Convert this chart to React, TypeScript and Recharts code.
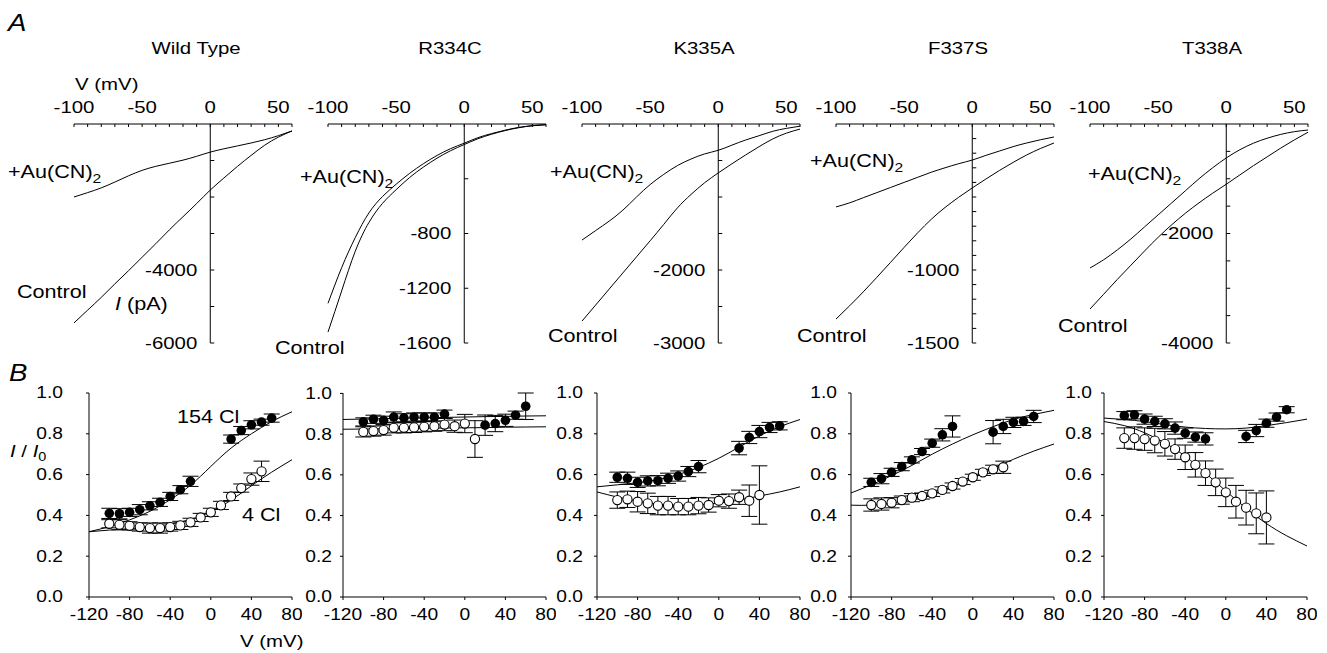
import React from "react";
import {
  ComposedChart,
  LineChart,
  Line,
  Scatter,
  ErrorBar,
  XAxis,
  YAxis,
  ReferenceLine,
} from "recharts";

const FONT = "'Liberation Sans', Arial, Helvetica, sans-serif";
const SX = 1.2; // the figure's lettering is stretched sideways

// ---------- A: current traces (pA) ----------
const aVoltage = [-100, -90, -80, -70, -60, -50, -40, -30, -20, -10, 0, 10, 20, 30, 40, 50, 60];
const aXTicks = [-100, -90, -80, -70, -60, -50, -40, -30, -20, -10, 0, 10, 20, 30, 40, 50, 60];

const wtControl = [-5450, -5100, -4750, -4380, -4020, -3650, -3280, -2900, -2540, -2180, -1810, -1480, -1160, -860, -580, -360, -190];
const wtAu = [-2000, -1880, -1750, -1590, -1420, -1270, -1160, -1075, -990, -885, -770, -680, -600, -520, -430, -320, -190];
const rcControl = [-1520, -1220, -930, -720, -580, -480, -390, -315, -250, -195, -150, -108, -75, -48, -27, -13, -5];
const rcAu = [-1310, -1050, -830, -650, -530, -440, -360, -290, -230, -180, -140, -100, -70, -45, -25, -12, -5];
const kControl = [-2700, -2480, -2260, -2040, -1820, -1600, -1375, -1150, -965, -805, -670, -545, -425, -310, -205, -125, -70];
const kAu = [-1590, -1460, -1330, -1180, -1000, -830, -690, -570, -480, -410, -360, -290, -220, -160, -100, -60, -30];
const fControl = [-1336, -1245, -1150, -1050, -948, -845, -745, -652, -572, -502, -438, -377, -318, -263, -212, -168, -130];
const fAu = [-568, -540, -505, -470, -435, -400, -365, -330, -300, -272, -247, -215, -185, -155, -130, -108, -89];
const tControl = [-3380, -3110, -2840, -2580, -2320, -2070, -1840, -1630, -1440, -1265, -1100, -930, -760, -600, -440, -290, -150];
const tAu = [-2630, -2480, -2300, -2100, -1880, -1660, -1440, -1220, -1000, -800, -620, -470, -350, -260, -190, -140, -110];

const wtYTicks = [-1000, -2000, -3000, -4000, -5000, -6000];
const wtYLabels = [-4000, -6000];
const rcYTicks = [-400, -800, -1200, -1600];
const rcYLabels = [-800, -1200, -1600];
const kYTicks = [-500, -1000, -1500, -2000, -2500, -3000];
const kYLabels = [-2000, -3000];
const fYTicks = [-100, -200, -300, -400, -500, -600, -700, -800, -900, -1000, -1100, -1200, -1300, -1400, -1500];
const fYLabels = [-1000, -1500];
const tYTicks = [-500, -1000, -1500, -2000, -2500, -3000, -3500, -4000];
const tYLabels = [-2000, -4000];

// ---------- B: I / I0 ----------
const bXTicks = [-120, -80, -40, 0, 40, 80];
const bYTicks = [0, 0.2, 0.4, 0.6, 0.8, 1.0];
const fitV = [-120, -100, -80, -60, -40, -20, 0, 20, 40, 60, 80];
const filledV = [-100, -90, -80, -70, -60, -50, -40, -30, -20, 20, 30, 40, 50, 60];

const wtFilledR = [0.41, 0.408, 0.415, 0.428, 0.447, 0.464, 0.493, 0.526, 0.567, 0.774, 0.816, 0.844, 0.857, 0.877];
const wtFilledE = [0.025, 0.025, 0.02, 0.025, 0.02, 0.02, 0.02, 0.02, 0.025, 0.02, 0.02, 0.02, 0.015, 0.02];
const wtOpenV = [-100, -90, -80, -70, -60, -50, -40, -30, -20, -10, 0, 10, 20, 30, 40, 50];
const wtOpenR = [0.359, 0.354, 0.349, 0.343, 0.338, 0.338, 0.343, 0.351, 0.366, 0.39, 0.415, 0.449, 0.493, 0.534, 0.578, 0.616];
const wtOpenE = [0.02, 0.025, 0.02, 0.02, 0.025, 0.025, 0.02, 0.02, 0.02, 0.02, 0.02, 0.02, 0.02, 0.02, 0.03, 0.05];
const wtFitFilled = [0.32, 0.345, 0.378, 0.42, 0.477, 0.548, 0.64, 0.73, 0.8, 0.86, 0.908];
const wtFitOpen = [0.32, 0.328, 0.335, 0.343, 0.357, 0.38, 0.418, 0.475, 0.545, 0.612, 0.673];

const rcFilledR = [0.86, 0.873, 0.868, 0.884, 0.88, 0.884, 0.884, 0.884, 0.898, 0.844, 0.852, 0.868, 0.893, 0.937];
const rcFilledE = [0.02, 0.02, 0.02, 0.025, 0.02, 0.02, 0.02, 0.02, 0.02, 0.05, 0.04, 0.03, 0.02, 0.065];
const rcOpenV = [-100, -90, -80, -70, -60, -50, -40, -30, -20, -10, 0, 10];
const rcOpenR = [0.811, 0.815, 0.82, 0.831, 0.831, 0.833, 0.836, 0.839, 0.847, 0.839, 0.852, 0.776];
const rcOpenE = [0.025, 0.025, 0.025, 0.025, 0.025, 0.025, 0.025, 0.025, 0.03, 0.03, 0.045, 0.09];
const rcFitFilled = [0.872, 0.874, 0.876, 0.878, 0.88, 0.882, 0.884, 0.886, 0.887, 0.889, 0.89];
const rcFitOpen = [0.824, 0.825, 0.826, 0.828, 0.829, 0.83, 0.831, 0.832, 0.834, 0.835, 0.836];

const kFilledR = [0.587, 0.582, 0.562, 0.569, 0.57, 0.582, 0.593, 0.615, 0.639, 0.73, 0.782, 0.811, 0.831, 0.839];
const kFilledE = [0.025, 0.03, 0.025, 0.025, 0.025, 0.025, 0.025, 0.025, 0.03, 0.033, 0.03, 0.03, 0.025, 0.02];
const kOpenV = [-100, -90, -80, -70, -60, -50, -40, -30, -20, -10, 0, 10, 20, 30, 40];
const kOpenR = [0.475, 0.479, 0.467, 0.459, 0.448, 0.448, 0.443, 0.443, 0.448, 0.451, 0.472, 0.47, 0.489, 0.472, 0.5];
const kOpenE = [0.04, 0.04, 0.05, 0.05, 0.045, 0.045, 0.04, 0.04, 0.04, 0.035, 0.03, 0.035, 0.035, 0.077, 0.143];
const kFitFilled = [0.54, 0.55, 0.56, 0.575, 0.6, 0.635, 0.68, 0.735, 0.79, 0.835, 0.87];
const kFitOpen = [0.515, 0.49, 0.47, 0.455, 0.45, 0.452, 0.46, 0.475, 0.495, 0.515, 0.54];

const fFilledR = [0.562, 0.58, 0.611, 0.639, 0.672, 0.713, 0.754, 0.795, 0.836, 0.808, 0.836, 0.856, 0.861, 0.885];
const fFilledE = [0.02, 0.025, 0.02, 0.02, 0.015, 0.015, 0.02, 0.03, 0.052, 0.057, 0.035, 0.025, 0.02, 0.03];
const fOpenV = [-100, -90, -80, -70, -60, -50, -40, -30, -20, -10, 0, 10, 20, 30];
const fOpenR = [0.451, 0.456, 0.462, 0.475, 0.487, 0.495, 0.508, 0.525, 0.544, 0.566, 0.587, 0.611, 0.626, 0.636];
const fOpenE = [0.03, 0.03, 0.025, 0.02, 0.02, 0.015, 0.015, 0.015, 0.015, 0.015, 0.015, 0.015, 0.02, 0.03];
const fFitFilled = [0.51, 0.55, 0.595, 0.645, 0.7, 0.75, 0.795, 0.835, 0.87, 0.895, 0.915];
const fFitOpen = [0.45, 0.45, 0.46, 0.48, 0.505, 0.54, 0.585, 0.63, 0.675, 0.715, 0.75];

const tFilledR = [0.889, 0.893, 0.872, 0.861, 0.849, 0.828, 0.803, 0.784, 0.775, 0.787, 0.816, 0.852, 0.882, 0.918];
const tFilledE = [0.02, 0.02, 0.025, 0.025, 0.025, 0.03, 0.025, 0.025, 0.03, 0.03, 0.03, 0.02, 0.02, 0.015];
const tOpenV = [-100, -90, -80, -70, -60, -50, -40, -30, -20, -10, 0, 10, 20, 30, 40];
const tOpenR = [0.779, 0.779, 0.774, 0.767, 0.751, 0.725, 0.685, 0.648, 0.607, 0.562, 0.513, 0.467, 0.438, 0.41, 0.39];
const tOpenE = [0.05, 0.055, 0.055, 0.06, 0.06, 0.05, 0.06, 0.06, 0.06, 0.065, 0.07, 0.08, 0.085, 0.1, 0.13];
const tFitFilled = [0.877, 0.87, 0.86, 0.845, 0.833, 0.826, 0.824, 0.828, 0.84, 0.855, 0.872];
const tFitOpen = [0.86, 0.84, 0.805, 0.755, 0.69, 0.607, 0.52, 0.435, 0.36, 0.3, 0.25];

// ---------- layout ----------
const A_LEFT = [74, 328, 582, 836, 1090];
const A_TOP = 124;
const A_W = 218;
const A_H = 219;
const B_LEFT = [89, 343, 597, 851, 1104];
const B_TOP = 393;
const B_W = 203;
const B_H = 204;
const B_LABEL_GAP = [26, 11, 14, 14, 12];

function SText({ x, y, size = 18, anchor = "start", italic = false, children }: any) {
  return (
    <text
      transform={`translate(${x},${y}) scale(${SX},1)`}
      textAnchor={anchor}
      dominantBaseline="central"
      fontSize={size}
      fontFamily={FONT}
      fontStyle={italic ? "italic" : "normal"}
      fill="#000"
    >
      {children}
    </text>
  );
}

function IVPanel({ idx, control, au, yMin, yTicks, yLabels }: any) {
  const data = aVoltage.map((v, i) => ({ v, control: control[i], au: au[i] }));
  const plotL = 40;
  const plotT = 40;
  const zeroX = plotL + ((0 + 100) / 160) * A_W;
  return (
    <div style={{ position: "absolute", left: A_LEFT[idx] - plotL, top: A_TOP - plotT }}>
      <LineChart width={plotL + A_W + 10} height={plotT + A_H + 10} data={data} margin={{ top: 10, right: 10, bottom: 10, left: 10 }}>
        <XAxis
          dataKey="v"
          type="number"
          domain={[-100, 60]}
          ticks={aXTicks}
          interval={0}
          orientation="top"
          height={30}
          axisLine={{ stroke: "#000" }}
          tickLine={false}
          tick={(p: any) => (
            <g>
              <line x1={p.x} x2={p.x} y1={plotT} y2={plotT + 3} stroke="#000" />
              {p.payload.value % 50 === 0 && (
                <SText x={p.x} y={plotT - 17} size={17} anchor="middle">
                  {p.payload.value}
                </SText>
              )}
            </g>
          )}
        />
        <YAxis
          type="number"
          domain={[yMin, 0]}
          ticks={yTicks}
          interval={0}
          width={30}
          axisLine={false}
          tickLine={false}
          tick={(p: any) => (
            <g>
              <line x1={zeroX} x2={zeroX + 4} y1={p.y} y2={p.y} stroke="#000" />
              {yLabels.includes(p.payload.value) && (
                <SText x={zeroX - 13} y={p.y} size={17} anchor="end">
                  {p.payload.value}
                </SText>
              )}
            </g>
          )}
        />
        <ReferenceLine x={0} stroke="#000" strokeWidth={1} />
        <Line dataKey="control" type="natural" stroke="#000" strokeWidth={1} dot={false} isAnimationActive={false} />
        <Line dataKey="au" type="natural" stroke="#000" strokeWidth={1} dot={false} isAnimationActive={false} />
      </LineChart>
    </div>
  );
}

const filledDot = (p: any) => <circle cx={p.cx} cy={p.cy} r={4.8} fill="#000" />;
const openDot = (p: any) => <circle cx={p.cx} cy={p.cy} r={4.6} fill="#fff" stroke="#000" strokeWidth={1.1} />;

function RatioPanel({ idx, fR, fE, oV, oR, oE, fitF, fitO }: any) {
  const plotL = 60;
  const plotT = 10;
  const filled = filledV.map((v, i) => ({ v, r: fR[i], e: fE[i] }));
  const open = oV.map((v: number, i: number) => ({ v, r: oR[i], e: oE[i] }));
  const lineF = fitV.map((v, i) => ({ v, r: fitF[i] }));
  const lineO = fitV.map((v, i) => ({ v, r: fitO[i] }));
  const axisY = plotT + B_H;
  return (
    <div style={{ position: "absolute", left: B_LEFT[idx] - plotL, top: B_TOP - plotT }}>
      <ComposedChart width={plotL + B_W + 10} height={plotT + B_H + 40} margin={{ top: 10, right: 10, bottom: 10, left: 10 }}>
        <XAxis
          dataKey="v"
          type="number"
          domain={[-120, 80]}
          ticks={bXTicks}
          interval={0}
          height={30}
          axisLine={{ stroke: "#000" }}
          tickLine={false}
          tick={(p: any) => (
            <g>
              <line x1={p.x} x2={p.x} y1={axisY} y2={axisY + 3} stroke="#000" />
              <SText x={p.x} y={axisY + 18} size={16} anchor="middle">
                {p.payload.value}
              </SText>
            </g>
          )}
        />
        <YAxis
          dataKey="r"
          type="number"
          domain={[0, 1]}
          ticks={bYTicks}
          interval={0}
          width={50}
          axisLine={{ stroke: "#000" }}
          tickLine={false}
          tick={(p: any) => (
            <g>
              <line x1={plotL - 3} x2={plotL} y1={p.y} y2={p.y} stroke="#000" />
              <SText x={plotL - B_LABEL_GAP[idx]} y={p.y} size={16} anchor="end">
                {Number(p.payload.value).toFixed(1)}
              </SText>
            </g>
          )}
        />
        <Line data={lineF} dataKey="r" type="natural" stroke="#000" strokeWidth={1} dot={false} isAnimationActive={false} />
        <Line data={lineO} dataKey="r" type="natural" stroke="#000" strokeWidth={1} dot={false} isAnimationActive={false} />
        <Scatter data={filled} dataKey="r" shape={filledDot} isAnimationActive={false}>
          <ErrorBar dataKey="e" direction="y" width={8} stroke="#000" strokeWidth={1} />
        </Scatter>
        <Scatter data={open} dataKey="r" shape={openDot} isAnimationActive={false}>
          <ErrorBar dataKey="e" direction="y" width={8} stroke="#000" strokeWidth={1} />
        </Scatter>
      </ComposedChart>
    </div>
  );
}

function AuLabel({ x, y }: { x: number; y: number }) {
  return (
    <SText x={x} y={y}>
      +Au(CN)
      <tspan fontSize={13} dy={6}>
        2
      </tspan>
    </SText>
  );
}

export default function App() {
  return (
    <div style={{ position: "absolute", left: 0, top: 0, width: 1327, height: 653, background: "#fff", overflow: "hidden" }}>
      <IVPanel idx={0} control={wtControl} au={wtAu} yMin={-6000} yTicks={wtYTicks} yLabels={wtYLabels} />
      <IVPanel idx={1} control={rcControl} au={rcAu} yMin={-1600} yTicks={rcYTicks} yLabels={rcYLabels} />
      <IVPanel idx={2} control={kControl} au={kAu} yMin={-3000} yTicks={kYTicks} yLabels={kYLabels} />
      <IVPanel idx={3} control={fControl} au={fAu} yMin={-1500} yTicks={fYTicks} yLabels={fYLabels} />
      <IVPanel idx={4} control={tControl} au={tAu} yMin={-4000} yTicks={tYTicks} yLabels={tYLabels} />

      <RatioPanel idx={0} fR={wtFilledR} fE={wtFilledE} oV={wtOpenV} oR={wtOpenR} oE={wtOpenE} fitF={wtFitFilled} fitO={wtFitOpen} />
      <RatioPanel idx={1} fR={rcFilledR} fE={rcFilledE} oV={rcOpenV} oR={rcOpenR} oE={rcOpenE} fitF={rcFitFilled} fitO={rcFitOpen} />
      <RatioPanel idx={2} fR={kFilledR} fE={kFilledE} oV={kOpenV} oR={kOpenR} oE={kOpenE} fitF={kFitFilled} fitO={kFitOpen} />
      <RatioPanel idx={3} fR={fFilledR} fE={fFilledE} oV={fOpenV} oR={fOpenR} oE={fOpenE} fitF={fFitFilled} fitO={fFitOpen} />
      <RatioPanel idx={4} fR={tFilledR} fE={tFilledE} oV={tOpenV} oR={tOpenR} oE={tOpenE} fitF={tFitFilled} fitO={tFitOpen} />

      <svg width={1327} height={653} style={{ position: "absolute", left: 0, top: 0, pointerEvents: "none" }}>
        <SText x={8} y={23} size={23} italic>A</SText>
        <SText x={9} y={373} size={23} italic>B</SText>

        <SText x={196} y={48} size={17} anchor="middle">Wild Type</SText>
        <SText x={450} y={48} size={17} anchor="middle">R334C</SText>
        <SText x={704} y={48} size={17} anchor="middle">K335A</SText>
        <SText x={958} y={48} size={17} anchor="middle">F337S</SText>
        <SText x={1212} y={48} size={17} anchor="middle">T338A</SText>
        <SText x={75} y={84} size={17}>V (mV)</SText>

        <AuLabel x={8} y={172} />
        <SText x={17} y={292}>Control</SText>
        <SText x={115} y={304}>
          <tspan fontStyle="italic">I</tspan> (pA)
        </SText>
        <AuLabel x={300} y={177} />
        <SText x={275} y={348}>Control</SText>
        <AuLabel x={550} y={172} />
        <SText x={548} y={336}>Control</SText>
        <AuLabel x={810} y={161} />
        <SText x={797} y={336}>Control</SText>
        <AuLabel x={1088} y={174} />
        <SText x={1058} y={326}>Control</SText>

        <SText x={10} y={451} size={17}>
          <tspan fontStyle="italic">I</tspan> / <tspan fontStyle="italic">I</tspan>
          <tspan fontSize={12} dy={5}>0</tspan>
        </SText>
        <SText x={177} y={417}>154 Cl</SText>
        <SText x={242} y={515}>4 Cl</SText>
        <SText x={240} y={641} size={17}>V (mV)</SText>
      </svg>
    </div>
  );
}
